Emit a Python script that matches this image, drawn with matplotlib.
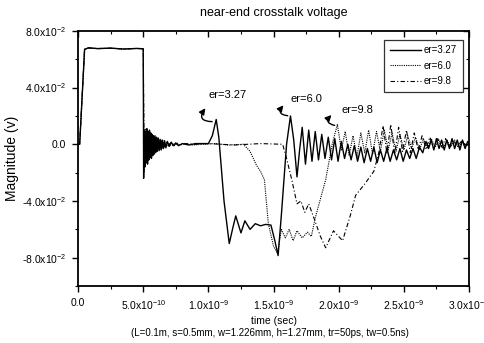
# -*- coding: utf-8 -*-
# near-end crosstalk voltage: three dielectric constants (er), time domain
import matplotlib
matplotlib.use("Agg")
import matplotlib.pyplot as plt
from matplotlib.ticker import FixedLocator, MultipleLocator

# ----------------- dados (t em ns, v em unidades de 1e-2) -----------------
# trecho inicial (pulso) comum às três curvas
t_pulso = [0.0, 0.012, 0.05, 0.08, 0.15, 0.25, 0.35, 0.45, 0.498]
v_pulso = [0.0, 0.0, 6.7, 6.8, 6.75, 6.78, 6.72, 6.76, 6.74]

t_er327 = [0.500, 0.503, 0.508, 0.513, 0.518, 0.523, 0.528, 0.533, 0.538, 0.543, 0.548,
           0.553, 0.558, 0.563, 0.568, 0.573, 0.578, 0.584, 0.590, 0.596, 0.602, 0.608,
           0.615, 0.622, 0.63, 0.638, 0.646, 0.655, 0.664, 0.674, 0.685, 0.70, 0.715,
           0.73, 0.75, 0.77, 0.80, 0.85,
           0.90, 1.00, 1.03, 1.06, 1.08, 1.12, 1.16, 1.19, 1.21, 1.25, 1.28, 1.32,
           1.36, 1.40, 1.44, 1.48, 1.51, 1.535, 1.56, 1.60, 1.63, 1.655, 1.68, 1.70,
           1.72, 1.745, 1.77, 1.795, 1.82, 1.845, 1.87, 1.895, 1.92, 1.945, 1.97,
           1.995, 2.02, 2.045, 2.07, 2.095, 2.12, 2.145, 2.17, 2.195, 2.22, 2.245,
           2.27, 2.295, 2.32, 2.345, 2.37, 2.395, 2.42, 2.445, 2.47, 2.495, 2.52,
           2.545, 2.57, 2.595, 2.62, 2.645, 2.67, 2.69, 2.71, 2.73, 2.75, 2.77, 2.79,
           2.81, 2.83, 2.85, 2.87, 2.89, 2.91, 2.93, 2.95, 2.97, 2.99, 3.0]
v_er327 = [6.74, -2.4, 1.0, -1.6, 0.9, -1.3, 1.1, -1.4, 0.8, -1.1, 1.0,
           -0.9, 0.8, -1.0, 0.7, -0.8, 0.6, -0.7, 0.6, -0.6, 0.5, -0.5,
           0.45, -0.45, 0.35, -0.4, 0.3, -0.3, 0.25, -0.25, 0.2, -0.15, 0.15,
           -0.1, 0.1, -0.1, 0.05, -0.05,
           0.05, 0.05, 0.6, 1.75, 0.5, -4.0, -7.0, -5.8, -5.05, -6.25, -5.4, -6.0,
           -5.6, -5.75, -5.65, -5.7, -6.8, -7.85, -5.0, 0.0, 2.0, 0.3, -2.3, -0.4,
           1.2, -1.4, 1.0, -1.2, 0.9, -1.1, 0.7, -1.0, 0.5, -1.1, 0.4,
           -1.2, 0.2, -1.0, 0.0, -1.1, -0.1, -1.2, -0.2, -1.3, -0.3, -1.2,
           -0.2, -1.3, -0.4, -1.2, -0.3, -1.2, -0.4, -1.1, -0.3, -1.2, -0.4,
           -1.0, -0.3, -1.0, -0.2, -0.6, 0.2, -0.3, 0.3, -0.4, 0.4, -0.3, 0.3,
           -0.4, 0.3, -0.3, 0.4, -0.3, 0.3, -0.4, 0.3, -0.3, 0.2, 0.0]

t_er60 = [0.500, 0.506, 0.511, 0.516, 0.521, 0.526, 0.531, 0.536, 0.541, 0.546, 0.551,
          0.556, 0.561, 0.566, 0.571, 0.576, 0.582, 0.588, 0.594, 0.60, 0.607, 0.614,
          0.621, 0.63, 0.64, 0.65, 0.66, 0.67, 0.685, 0.70, 0.72, 0.74, 0.76, 0.78,
          0.82, 0.88, 0.95, 1.05, 1.15, 1.27, 1.32, 1.37, 1.40, 1.43, 1.46, 1.50, 1.53,
          1.56, 1.59, 1.62, 1.65, 1.68, 1.72, 1.76, 1.79, 1.82, 1.90, 1.95, 1.99,
          2.02, 2.05, 2.08, 2.11, 2.14, 2.17, 2.20, 2.23, 2.26, 2.29, 2.32, 2.35,
          2.38, 2.41, 2.44, 2.47, 2.50, 2.53, 2.56, 2.59, 2.62, 2.65, 2.68, 2.71,
          2.74, 2.77, 2.80, 2.83, 2.86, 2.89, 2.92, 2.95, 2.98, 3.0]
v_er60 = [6.74, -2.0, 0.9, -1.4, 1.1, -1.1, 0.8, -1.2, 0.9, -0.8, 0.8,
          -0.9, 0.7, -0.8, 0.6, -0.7, 0.5, -0.6, 0.5, -0.5, 0.4, -0.4,
          0.35, -0.35, 0.3, -0.3, 0.25, -0.2, 0.15, -0.15, 0.1, -0.1, 0.1, -0.05,
          0.05, -0.05, 0.0, 0.05, -0.05, 0.0, -0.5, -1.5, -1.9, -2.5, -5.6, -7.2, -7.7,
          -6.0, -6.6, -6.0, -6.8, -6.1, -6.6, -6.2, -6.5, -5.2, -2.5, 0.0, 1.4,
          -0.4, 0.9, -0.8, 0.6, -0.9, 0.8, -0.6, 1.0, -0.7, 0.9, -0.5, 1.0,
          -0.4, 0.8, -0.5, 0.7, -0.4, 0.6, -0.3, 0.5, -0.4, 0.4, -0.3, 0.4,
          -0.2, 0.3, -0.3, 0.3, -0.2, 0.3, -0.2, 0.2, -0.1, 0.0]

t_er98 = [0.500, 0.508, 0.514, 0.520, 0.526, 0.532, 0.538, 0.544, 0.550, 0.556, 0.562,
          0.568, 0.575, 0.582, 0.59, 0.60, 0.615, 0.63, 0.645, 0.66, 0.675, 0.69,
          0.71, 0.73, 0.75, 0.78, 0.82, 0.90,
          1.0, 1.2, 1.4, 1.57, 1.60, 1.64, 1.68, 1.71, 1.74, 1.77, 1.81, 1.86,
          1.90, 1.96, 2.03, 2.09, 2.13, 2.20, 2.27, 2.31, 2.34, 2.37, 2.40, 2.43,
          2.46, 2.49, 2.52, 2.55, 2.58, 2.61, 2.64, 2.67, 2.70, 2.73, 2.76, 2.79,
          2.82, 2.85, 2.88, 2.91, 2.94, 2.97, 3.0]
v_er98 = [6.74, -1.8, 1.1, -1.2, 0.8, -1.0, 0.9, -0.8, 0.8, -0.7, 0.6,
          -0.6, 0.5, -0.5, 0.4, -0.4, 0.3, -0.3, 0.2, -0.2, 0.15, -0.1,
          0.1, -0.1, 0.05, -0.05, 0.05, 0.0,
          0.05, -0.05, 0.05, 0.0, -1.0, -2.5, -4.2, -4.0, -4.8, -4.2, -5.2, -6.5,
          -7.3, -6.1, -6.8, -5.0, -3.6, -2.8, -1.9, -0.5, 1.3, -0.6, 1.4, -0.7,
          1.2, -0.5, 1.0, -0.6, 0.8, -0.4, 0.6, -0.3, 0.5, -0.3, 0.4, -0.2,
          0.4, -0.2, 0.3, -0.2, 0.2, -0.1, 0.0]

legendas = ["er=3.27", "er=6.0", "er=9.8"]

y_ticks = [-8, -4, 0, 4, 8]
y_labels = ["-8.0x10$^{-2}$", "-4.0x10$^{-2}$", "0.0", "4.0x10$^{-2}$", "8.0x10$^{-2}$"]
x_ticks = [0.0, 0.5, 1.0, 1.5, 2.0, 2.5, 3.0]
x_labels = ["0.0", "5.0x10$^{-10}$", "1.0x10$^{-9}$", "1.5x10$^{-9}$",
            "2.0x10$^{-9}$", "2.5x10$^{-9}$", "3.0x10$^{-9}$"]

# ----------------- estilo -----------------
plt.rcParams.update({
    "font.family": ["Liberation Sans", "DejaVu Sans"],
    "mathtext.fontset": "custom",
    "mathtext.rm": "Liberation Sans",
    "mathtext.it": "Liberation Sans",
    "axes.linewidth": 1.3,
})

fig = plt.figure(figsize=(4.85, 3.43), dpi=100)
ax = fig.add_axes([0.161, 0.166, 0.806, 0.744])

ax.plot(t_pulso + t_er327, v_pulso + v_er327, color="black", lw=1.0,
        ls="-", label=legendas[0])
ax.plot(t_pulso + t_er60, v_pulso + v_er60, color="black", lw=0.8,
        ls=(0, (1, 1)), label=legendas[1])
ax.plot(t_pulso + t_er98, v_pulso + v_er98, color="black", lw=0.8,
        ls=(0, (4, 2, 1, 2)), label=legendas[2])

ax.set_xlim(0, 3.0)
ax.set_ylim(-10, 8)

ax.xaxis.set_major_locator(FixedLocator(x_ticks))
ax.set_xticklabels(x_labels)
ax.xaxis.set_minor_locator(MultipleLocator(0.25))
ax.yaxis.set_major_locator(FixedLocator(y_ticks))
ax.set_yticklabels(y_labels)
ax.yaxis.set_minor_locator(MultipleLocator(2))

ax.tick_params(axis="both", which="major", labelsize=7.5, length=4.5, width=1.0,
               top=True, right=True, direction="out", pad=4)
ax.tick_params(axis="both", which="minor", length=2.5, width=0.8,
               top=True, right=True, direction="out")
# topo e direita com ticks para dentro (estilo Origin)
for t in ax.xaxis.get_major_ticks() + ax.xaxis.get_minor_ticks():
    t.tick2line.set_marker(3)
for t in ax.yaxis.get_major_ticks() + ax.yaxis.get_minor_ticks():
    t.tick2line.set_marker(0)

ax.set_title("near-end crosstalk voltage", fontsize=9, pad=11)
ax.set_ylabel("Magnitude (v)", fontsize=10, labelpad=2)
ax.set_xlabel("time (sec)", fontsize=7.5, labelpad=3)
fig.text(0.557, 0.03, "(L=0.1m, s=0.5mm, w=1.226mm, h=1.27mm, tr=50ps, tw=0.5ns)",
         ha="center", va="center", fontsize=7)

# rótulos com setas curvas (gancho do pico até perto do texto)
anot = [("er=3.27", (1.146, 3.5), (0.99, 2.7), (1.05, 1.6)),
        ("er=6.0", (1.755, 3.2), (1.59, 2.9), (1.63, 2.0)),
        ("er=9.8", (2.146, 2.45), (1.96, 2.2), (1.99, 1.3))]
for txt, pos_txt, cabeca, cauda in anot:
    ax.text(*pos_txt, txt, fontsize=8, ha="center", va="center")
    ax.annotate("", xy=cabeca, xytext=cauda,
                arrowprops=dict(arrowstyle="-|>", color="black", lw=1.0,
                                mutation_scale=9,
                                connectionstyle="arc3,rad=-1.1"))

leg = ax.legend(loc="upper right", bbox_to_anchor=(0.997, 0.985), fontsize=7,
                frameon=True, fancybox=False, edgecolor="black", handlelength=3.2,
                borderpad=0.6, labelspacing=0.55, handletextpad=0.3)
leg.get_frame().set_linewidth(0.9)

fig.savefig("out.png", dpi=100)
